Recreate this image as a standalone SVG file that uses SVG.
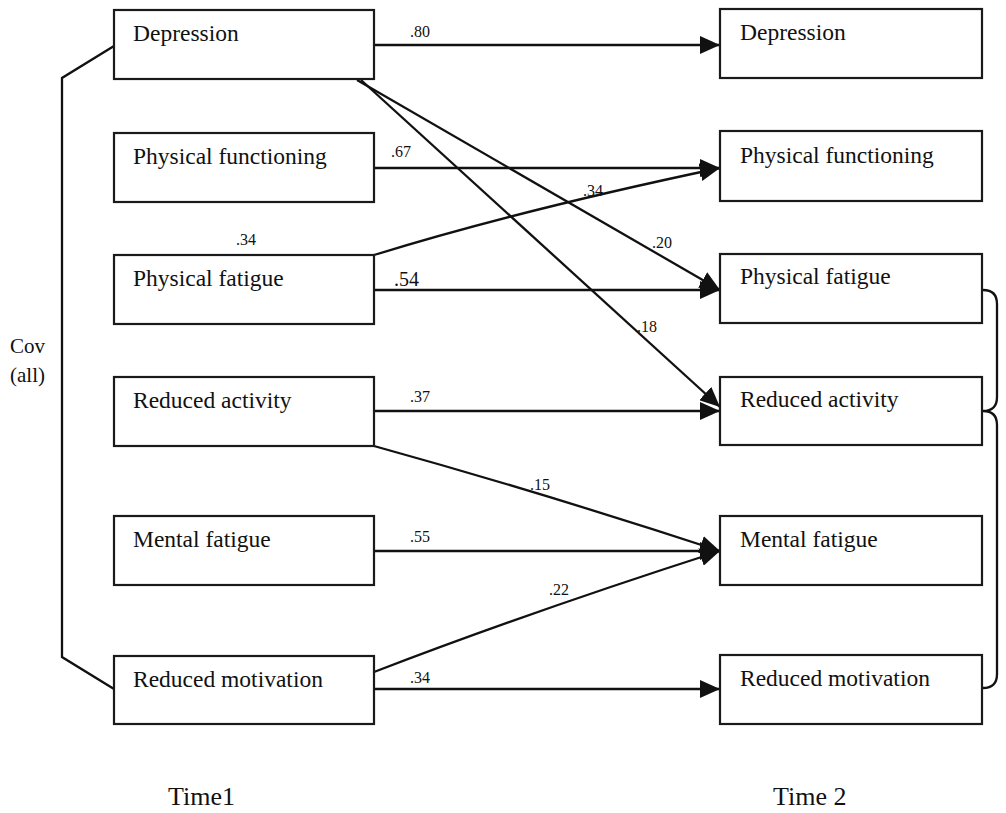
<svg xmlns="http://www.w3.org/2000/svg" width="1006" height="813" viewBox="0 0 1006 813">
<style>
.box{fill:#fff;stroke:#1a1a1a;stroke-width:2.2}
.nt{font-family:"Liberation Serif","Times New Roman",serif;font-size:23.5px;fill:#111}
.lb{font-family:"Liberation Serif","Times New Roman",serif;font-size:16px;fill:#111}
.big{font-family:"Liberation Serif","Times New Roman",serif;font-size:26px;fill:#111}
.cov{font-family:"Liberation Serif","Times New Roman",serif;font-size:21px;fill:#111}
.e{fill:none;stroke:#111;stroke-width:2.3}
</style>
<defs>
<marker id="ah" markerUnits="userSpaceOnUse" markerWidth="22" markerHeight="18" refX="20" refY="9" orient="auto">
<path d="M0,0 L20,9 L0,18 z" fill="#111"/>
</marker>
</defs>
<g id="connectors">
<path class="e" d="M374,45 L720,45" marker-end="url(#ah)"/>
<path class="e" d="M357,80 L720,290" marker-end="url(#ah)"/>
<path class="e" d="M361,80 L720,407" marker-end="url(#ah)"/>
<path class="e" d="M374,168 L720,168" marker-end="url(#ah)"/>
<path class="e" d="M374,255 Q520,210 720,168" marker-end="url(#ah)"/>
<path class="e" d="M374,290 L720,290" marker-end="url(#ah)"/>
<path class="e" d="M374,411 L720,411" marker-end="url(#ah)"/>
<path class="e" d="M374,446 Q540,492 720,551" marker-end="url(#ah)"/>
<path class="e" d="M374,551 L720,551" marker-end="url(#ah)"/>
<path class="e" d="M374,672 Q530,612 720,551" marker-end="url(#ah)"/>
<path class="e" d="M374,689 L720,689" marker-end="url(#ah)"/>
<path class="e" d="M114,46 L62,78 L62,657 L114,689"/>
<path class="e" d="M983,290 Q997,290 997,304 L997,397 Q997,411 983,411 Q997,411 997,425 L997,674 Q997,688 983,688"/>
<text class="lb" x="410" y="37">.80</text>
<text class="lb" x="391" y="157">.67</text>
<text class="lb" x="583" y="196">.34</text>
<text class="lb" x="236" y="245">.34</text>
<text class="lb" x="652" y="248">.20</text>
<text class="lb" x="394" y="286" style="font-size:20px">.54</text>
<text class="lb" x="637" y="332">.18</text>
<text class="lb" x="410" y="402">.37</text>
<text class="lb" x="530" y="490">.15</text>
<text class="lb" x="410" y="542">.55</text>
<text class="lb" x="549" y="595">.22</text>
<text class="lb" x="410" y="683">.34</text>
</g>
<g id="t1-depression"><rect class="box" x="114" y="10" width="260" height="69"/><text class="nt" x="133" y="41">Depression</text></g>
<g id="t1-physfunc"><rect class="box" x="114" y="133" width="260" height="69"/><text class="nt" x="133" y="164">Physical functioning</text></g>
<g id="t1-physfat"><rect class="box" x="114" y="255" width="260" height="69"/><text class="nt" x="133" y="286">Physical fatigue</text></g>
<g id="t1-redact"><rect class="box" x="114" y="377" width="260" height="69"/><text class="nt" x="133" y="408">Reduced activity</text></g>
<g id="t1-mental"><rect class="box" x="114" y="516" width="260" height="69"/><text class="nt" x="133" y="547">Mental fatigue</text></g>
<g id="t1-redmot"><rect class="box" x="114" y="656" width="260" height="68"/><text class="nt" x="133" y="687">Reduced motivation</text></g>
<g id="t2-depression"><rect class="box" x="720" y="9" width="262" height="69"/><text class="nt" x="740" y="40">Depression</text></g>
<g id="t2-physfunc"><rect class="box" x="720" y="131" width="262" height="70"/><text class="nt" x="740" y="163">Physical functioning</text></g>
<g id="t2-physfat"><rect class="box" x="720" y="254" width="262" height="69"/><text class="nt" x="740" y="284">Physical fatigue</text></g>
<g id="t2-redact"><rect class="box" x="720" y="377" width="262" height="68"/><text class="nt" x="740" y="407">Reduced activity</text></g>
<g id="t2-mental"><rect class="box" x="720" y="516" width="262" height="69"/><text class="nt" x="740" y="547">Mental fatigue</text></g>
<g id="t2-redmot"><rect class="box" x="720" y="655" width="262" height="69"/><text class="nt" x="740" y="686">Reduced motivation</text></g>
<g id="labels">
<text class="cov" x="10" y="353">Cov</text>
<text class="cov" x="10" y="382">(all)</text>
<text class="big" x="168" y="805">Time1</text>
<text class="big" x="773" y="805">Time 2</text>
</g>
</svg>
